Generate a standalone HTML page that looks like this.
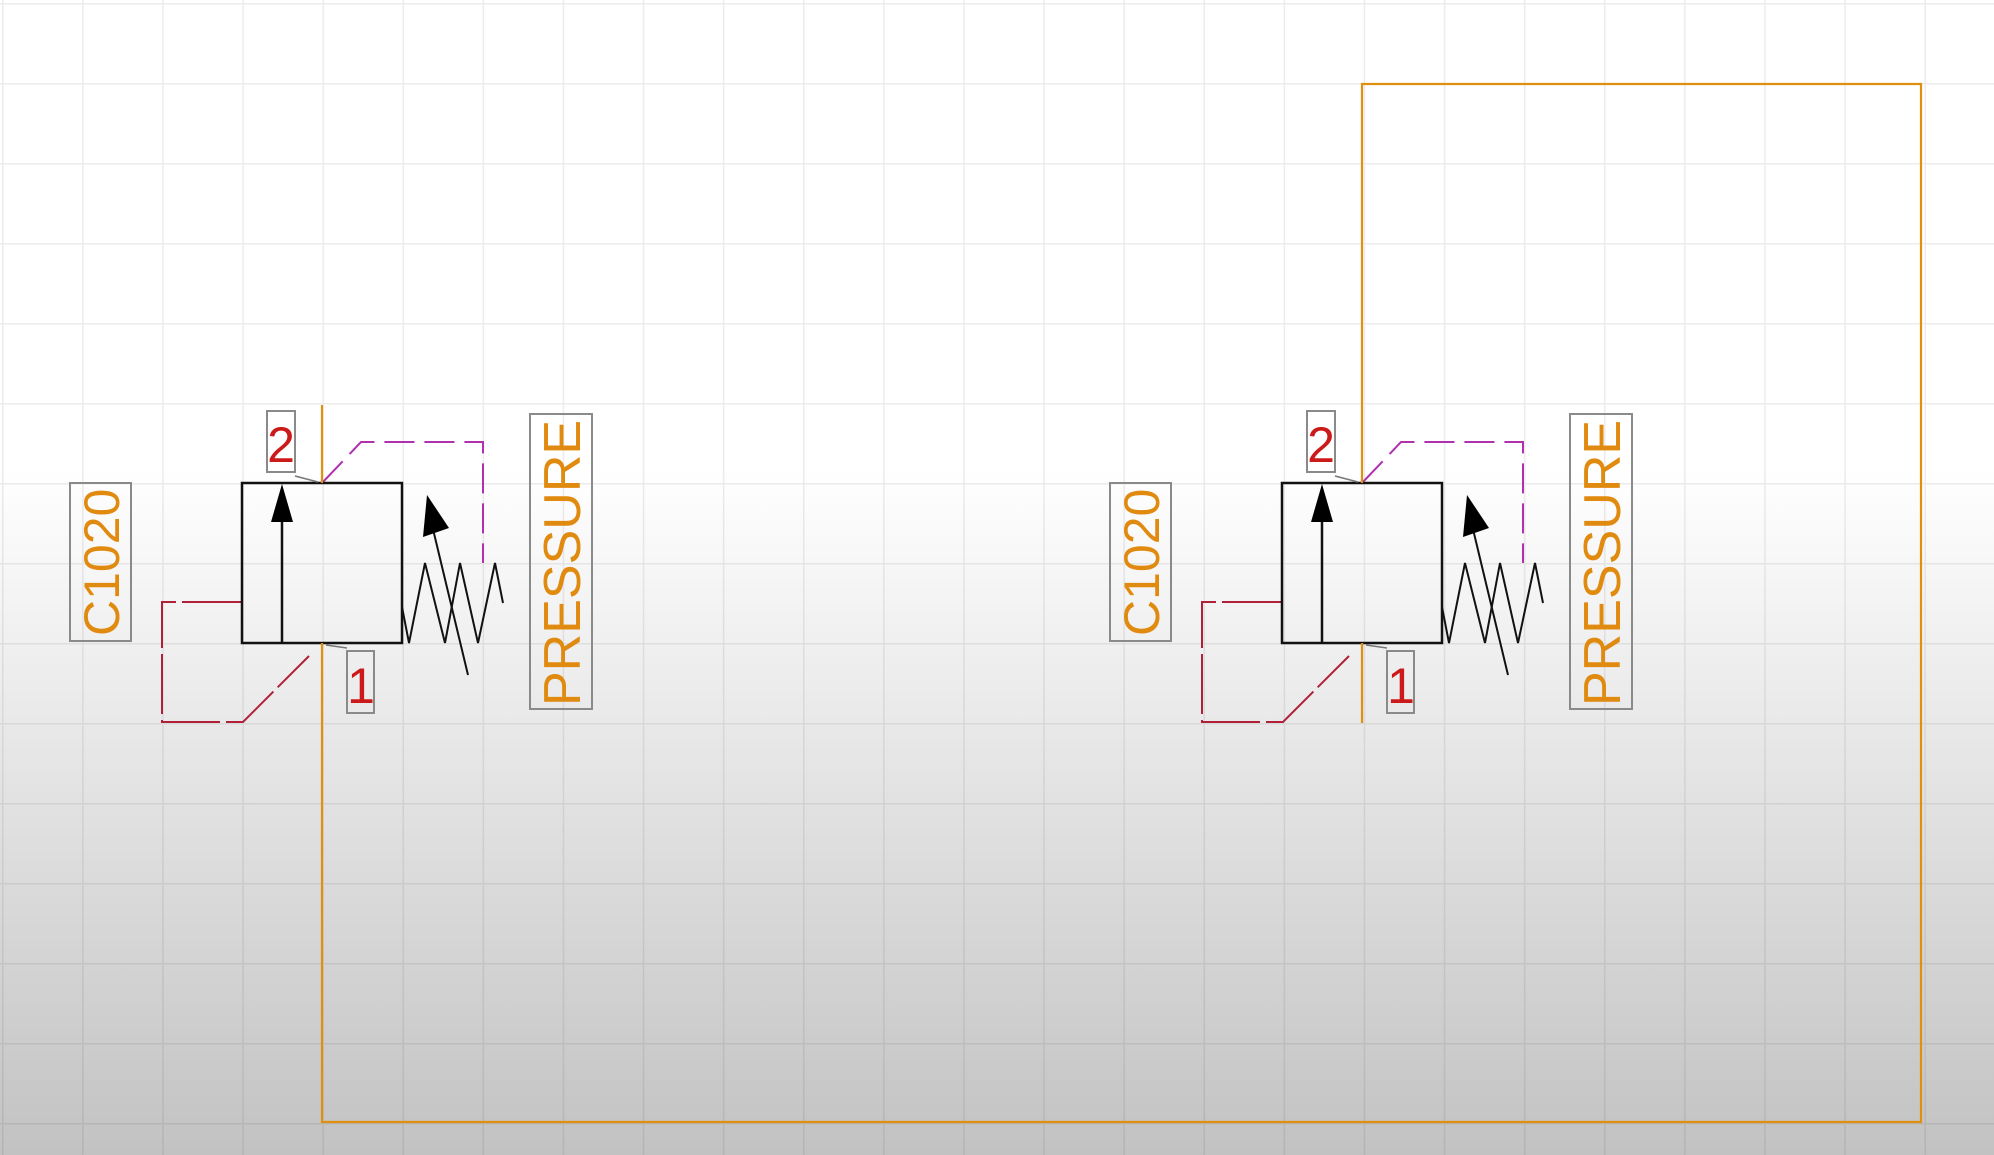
<!DOCTYPE html>
<html><head><meta charset="utf-8"><style>
html,body{margin:0;padding:0;width:1994px;height:1155px;overflow:hidden}
body{background:linear-gradient(to bottom,#ffffff 0px,#ffffff 470px,#e2e2e2 800px,#c2c2c2 1155px)}
svg{position:absolute;left:0;top:0}
text{font-family:"Liberation Sans",sans-serif}
</style></head><body>
<svg width="1994" height="1155" viewBox="0 0 1994 1155">
<defs>
<pattern id="g" x="2" y="3" width="80.1" height="80" patternUnits="userSpaceOnUse">
<path d="M0 0V80M0 0H80.1" stroke="rgba(0,0,0,0.075)" stroke-width="3" fill="none"/>
</pattern>
<g id="sym">
<!-- C1020 label -->
<rect x="70" y="483" width="61" height="158" fill="none" stroke="#8a8a8a" stroke-width="2"/>
<text transform="translate(119,636) rotate(-90)" font-size="50" fill="#e08a10">C1020</text>
<!-- PRESSURE label -->
<rect x="530" y="414" width="62" height="295" fill="none" stroke="#8a8a8a" stroke-width="2"/>
<text transform="translate(580,706) rotate(-90)" font-size="52" fill="#e08a10">PRESSURE</text>
<!-- pilot red -->
<polyline points="242,602 162,602 162,722 243,722 309,656" fill="none" stroke="#b02038" stroke-width="2" stroke-dasharray="60,6"/>
<!-- magenta pilot -->
<polyline points="322,483 361,442 483,442 483,563" fill="none" stroke="#b030b0" stroke-width="2" stroke-dasharray="30,10"/>
<!-- box -->
<rect x="242" y="483" width="160" height="160" fill="none" stroke="#111" stroke-width="2.5"/>
<line x1="282" y1="643" x2="282" y2="515" stroke="#111" stroke-width="2.5"/>
<polygon points="282,484 271,522 293,522" fill="#000"/>
<!-- spring -->
<polyline points="402,607 409,643 425,563 445,643 460,563 478,643 495,563 503,603" fill="none" stroke="#111" stroke-width="2"/>
<line x1="468" y1="675" x2="432" y2="525" stroke="#111" stroke-width="2"/>
<polygon points="427,495 423,537 449,528" fill="#000"/>
<!-- port labels -->
<rect x="267" y="411" width="28" height="61" fill="none" stroke="#8a8a8a" stroke-width="2"/>
<text x="281" y="462" font-size="50" fill="#cc1a1a" text-anchor="middle">2</text>
<line x1="295" y1="476" x2="318" y2="482" stroke="#777" stroke-width="1.5"/>
<rect x="347" y="651" width="27" height="62" fill="none" stroke="#8a8a8a" stroke-width="2"/>
<text x="361" y="703" font-size="50" fill="#cc1a1a" text-anchor="middle">1</text>
<line x1="326" y1="645" x2="347" y2="648" stroke="#777" stroke-width="1.5"/>
</g>
</defs>
<rect width="1994" height="1155" fill="url(#g)"/>
<use href="#sym"/>
<use href="#sym" transform="translate(1040,0)"/>
<!-- orange connections -->
<g fill="none" stroke="#e0900e" stroke-width="2.2">
<line x1="322" y1="405" x2="322" y2="483"/>
<polyline points="322,643 322,1122 1921,1122 1921,84 1362,84 1362,483"/>
<line x1="1362" y1="643" x2="1362" y2="723"/>
</g>
</svg>
</body></html>
